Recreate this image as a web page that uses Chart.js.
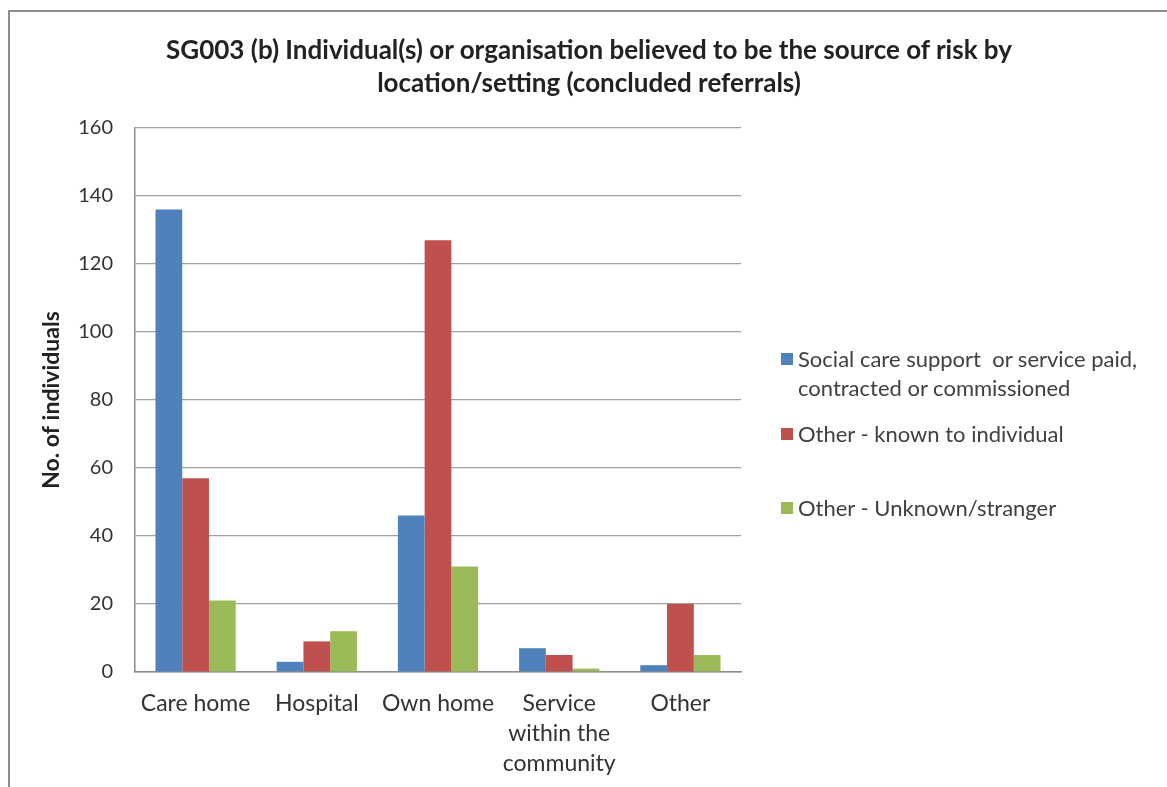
<!DOCTYPE html>
<html>
<head>
<meta charset="utf-8">
<script src="https://cdn.jsdelivr.net/npm/chart.js@4"></script>
<style>
  body { margin: 0; background: #fff; font-family: Lato, sans-serif; overflow: hidden; }
  #frame {
    position: absolute; left: 8px; top: 10px; width: 1165px; height: 785px;
    border-left: 2px solid #8c8c8c; border-top: 2px solid #8c8c8c;
  }
  #wrap { position: absolute; left: 0; top: 0; width: 1167px; height: 787px; }
  #title {
    position: absolute; left: 589px; top: 33px; transform: translateX(-50%);
    text-align: center; white-space: nowrap; font-weight: bold; font-size: 26px;
    line-height: 33px; color: #222;
  }
  .item {
    position: absolute; left: 781px; white-space: pre; line-height: 29px;
    color: #404040; font-size: 22px;
  }
  .item span.sw { position: absolute; left: 0; top: 9px; width: 12px; height: 12px; }
  .item div { padding-left: 17px; }
</style>
</head>
<body>
<div id="frame"></div>
<div id="wrap"><canvas id="chart"></canvas></div>
<div id="title"></div>
<div id="legend"></div>
<script>
// data
const titleLines = ['SG003 (b) Individual(s) or organisation believed to be the source of risk by',
                    'location/setting (concluded referrals)'];
const categories = ['Care home', 'Hospital', 'Own home', ['Service', 'within the', 'community'], 'Other'];
const seriesNames = [
  ['Social care support  or service paid,', 'contracted or commissioned'],
  ['Other - known to individual'],
  ['Other - Unknown/stranger']
];
const socialCare = [136, 3, 46, 7, 2];
const knownOther = [57, 9, 127, 5, 20];
const unknownOther = [21, 12, 31, 1, 5];
const colors = ['#4F81BD', '#C0504D', '#9BBB59'];
const legendTops = [344, 419, 493];

const FONT = 'Lato, sans-serif';

document.getElementById('title').innerHTML = titleLines.join('<br>');

const ctx = document.getElementById('chart').getContext('2d');
const chart = new Chart(ctx, {
  type: 'bar',
  data: {
    labels: categories,
    datasets: [socialCare, knownOther, unknownOther].map((d, i) => ({
      label: seriesNames[i].join(' '),
      data: d,
      backgroundColor: colors[i],
      borderWidth: 0,
      barPercentage: 1,
      categoryPercentage: 0.662
    }))
  },
  options: {
    responsive: true,
    maintainAspectRatio: false,
    animation: false,
    layout: { padding: { left: 0, right: 426, top: 128, bottom: 0 } },
    plugins: {
      legend: { display: false },
      tooltip: { enabled: false }
    },
    scales: {
      x: {
        grid: { display: false, drawTicks: false },
        border: { color: '#8c8c8c', width: 1.5 },
        ticks: {
          color: '#333', padding: 17, maxRotation: 0, autoSkip: false,
          font: { family: FONT, size: 23, lineHeight: 1.3 }
        },
        afterFit: s => { s.height = 115; }
      },
      y: {
        min: 0, max: 160,
        ticks: {
          stepSize: 20, color: '#333', padding: 22,
          font: { family: FONT, size: 20 }
        },
        grid: { color: '#a0a0a0', lineWidth: 1.2, drawTicks: false },
        border: { color: '#8c8c8c', width: 1.5 },
        title: {
          display: true, text: 'No. of individuals', color: '#222',
          font: { family: FONT, size: 23, weight: 'bold' },
          padding: { top: 38, bottom: 0 }
        },
        afterFit: s => { s.width = 135; }
      }
    }
  }
});

// legend as html text, built from the series names
const legend = document.getElementById('legend');
seriesNames.forEach((name, i) => {
  const it = document.createElement('div');
  it.className = 'item';
  it.style.top = legendTops[i] + 'px';
  it.innerHTML = '<span class="sw" style="background:' + colors[i] + '"></span>' +
    name.map(t => '<div>' + t + '</div>').join('');
  legend.appendChild(it);
});
</script>
</body>
</html>
